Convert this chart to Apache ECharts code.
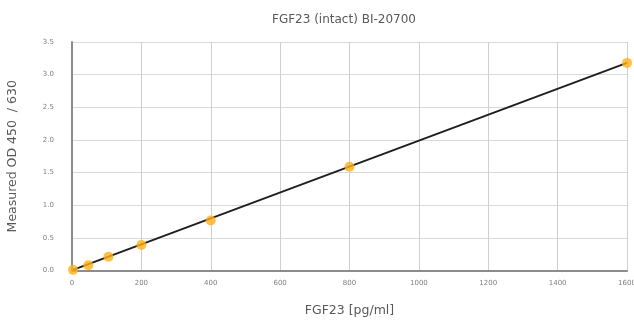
<!DOCTYPE html>
<html>
<head>
<meta charset="utf-8">
<script src="https://cdn.jsdelivr.net/npm/echarts@6/dist/echarts.min.js"></script>
<style>
  html, body { margin: 0; padding: 0; background: #fff; }
  #chart { width: 634px; height: 322px; }
</style>
</head>
<body>
<div id="chart"></div>
<script>
// 标准点 (浓度 / OD)
const conc = [3, 47, 105, 200, 400, 800, 1600];
const od = [0.01, 0.08, 0.21, 0.39, 0.765, 1.59, 3.18];
// 拟合直线端点
const fitX = [3, 1600];
const fitY = [0.01, 3.18];

const textColor = '#595959';
const labelColor = '#7f7f7f';
const font = 'DejaVu Sans';

let chart = echarts.init(document.getElementById('chart'));

let option = {
  animation: false,
  backgroundColor: '#fff',
  title: {
    text: 'FGF23 (intact) BI-20700',
    left: 267,
    top: 9,
    textStyle: { color: textColor, fontSize: 12, fontWeight: 'normal', fontFamily: font }
  },
  grid: { left: 72, right: 7, top: 42, bottom: 51.5, containLabel: false, outerBoundsMode: 'none' },
  xAxis: {
    type: 'value',
    min: 0, max: 1600, interval: 200,
    name: 'FGF23 [pg/ml]',
    nameLocation: 'middle',
    nameGap: 34,
    nameTextStyle: { color: textColor, fontSize: 12.5, fontFamily: font },
    axisLine: { show: true, onZero: false, lineStyle: { color: '#8c8c8c', width: 2 } },
    axisTick: { show: false },
    axisLabel: { color: labelColor, fontSize: 7, fontFamily: font, margin: 9, formatter: v => String(v) },
    splitLine: { show: true, lineStyle: { color: '#cfcfcf', width: 1 } }
  },
  yAxis: {
    type: 'value',
    min: 0, max: 3.5, interval: 0.5,
    name: 'Measured OD 450  / 630',
    nameLocation: 'middle',
    nameGap: 53,
    nameTextStyle: { color: textColor, fontSize: 12.5, fontFamily: font },
    axisLine: { show: true, lineStyle: { color: '#8c8c8c', width: 2 } },
    axisTick: { show: false },
    axisLabel: {
      color: labelColor, fontSize: 7, fontFamily: font, margin: 18,
      formatter: v => v.toFixed(1)
    },
    splitLine: { show: true, lineStyle: { color: '#d9d9d9', width: 1 } }
  },
  series: [
    {
      name: 'fit',
      type: 'line',
      data: fitX.map((x, i) => [x, fitY[i]]),
      showSymbol: false,
      symbol: 'none',
      lineStyle: { color: '#1f1f1f', width: 2 },
      z: 2
    },
    {
      name: 'std',
      type: 'scatter',
      data: conc.map((x, i) => [x, od[i]]),
      symbolSize: 10,
      itemStyle: { color: '#ffb018' },
      z: 3
    }
  ]
};

chart.setOption(option);
</script>
</body>
</html>
